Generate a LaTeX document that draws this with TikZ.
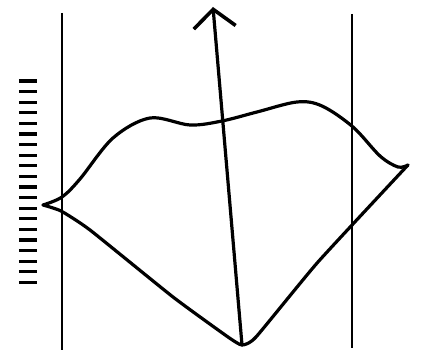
\documentclass[tikz,border=0pt]{standalone}
\usetikzlibrary{arrows.meta}
\begin{document}
\begin{tikzpicture}[x=0.5pt,y=-0.5pt]
		\tikzstyle{pen}=[line width=1.6pt, line cap=round, line join=round];
		\tikzstyle{wall}=[line width=0.9pt];
		\tikzstyle{tick}=[line width=1.6pt];

		\useasboundingbox (0,0) rectangle (425,351);

		\coordinate (L) at (43,205);
		\coordinate (R) at (408,165);
		\coordinate (B) at (242,345);
		\coordinate (T) at (213,7);
		\coordinate (WLt) at (62,13);
		\coordinate (WLb) at (62,350);
		\coordinate (WRt) at (352,14);
		\coordinate (WRb) at (352,348);

		\draw[wall] (WLt) to (WLb) ;
		\draw[wall] (WRt) to (WRb) ;

		\foreach \i in {0,...,19}
			\draw[tick] (19,{81+10.6*\i}) -- (37,{81+10.6*\i});

		\draw[pen] plot[smooth, tension=0.55] coordinates {(L) (62,197) (80,179) (113,138) (150,118) (190,125) (222,121) (257,112) (297,102) (322,106) (353,127) (380,156) (398,167) (R)};
		\draw[pen] plot[smooth, tension=0.3] coordinates {(L) (61,211) (90,230) (173,297) (228,337) (B) (256,337) (318,262) (R)};

		\draw[pen, -{Straight Barb[length=9pt, width=21pt, line width=1.8pt]}] (B) to (T) ;
        \end{tikzpicture}
\end{document}
